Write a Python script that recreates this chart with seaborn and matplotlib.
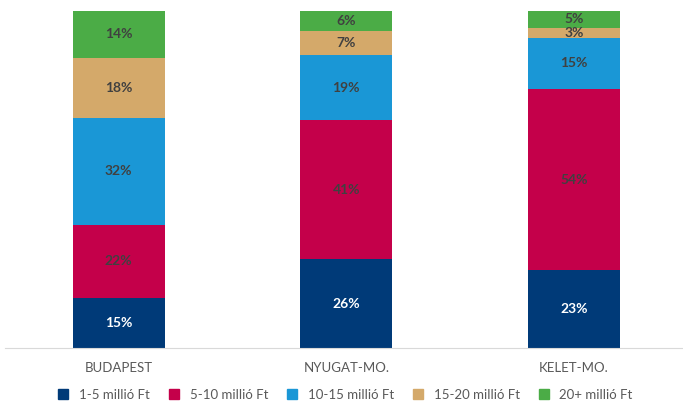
import numpy as np
import pandas as pd
import matplotlib
matplotlib.use('Agg')
import matplotlib.pyplot as plt
import seaborn as sns
from matplotlib.lines import Line2D

# Adatok
regiok = ['BUDAPEST', 'NYUGAT-MO.', 'KELET-MO.']
kategoriak = ['1-5 millió Ft', '5-10 millió Ft', '10-15 millió Ft', '15-20 millió Ft', '20+ millió Ft']
ertek_1_5 = [15, 26, 23]
ertek_5_10 = [22, 41, 54]
ertek_10_15 = [32, 19, 15]
ertek_15_20 = [18, 7, 3]
ertek_20p = [14, 6, 5]

szinek = ['#003A78', '#C4004A', '#1A97D6', '#D4A96A', '#4BAC46']
felirat_szin = ['white', '#404040', '#404040', '#404040', '#404040']

sns.set_style('white')
plt.rcParams['font.family'] = ['Lato', 'DejaVu Sans']

adat = np.array([ertek_1_5, ertek_5_10, ertek_10_15, ertek_15_20, ertek_20p], dtype=float)
arany = adat / adat.sum(axis=0) * 100  # 100%-os halmozás
kum = np.cumsum(arany, axis=0)

fig = plt.figure(figsize=(6.83, 4.07), dpi=100)
ax = fig.add_axes([5 / 683, 59 / 407, 678 / 683, 337 / 407])

# halmozott oszlopok: felülről lefelé rajzolva
for i in reversed(range(len(kategoriak))):
    df = pd.DataFrame({'regio': regiok, 'y': kum[i]})
    sns.barplot(data=df, x='regio', y='y', color=szinek[i], width=0.406,
                saturation=1, ax=ax, edgecolor='none', linewidth=0)

for i in range(len(kategoriak)):
    for j in range(len(regiok)):
        yc = kum[i, j] - arany[i, j] / 2
        ax.text(j, yc, f'{int(adat[i, j])}%', ha='center', va='center',
                fontsize=10, fontweight='bold', color=felirat_szin[i])

ax.set_ylim(0, 100)
ax.set_xlim(-0.5, 2.48)
ax.set_xlabel('')
ax.set_ylabel('')
ax.set_yticks([])
for s in ['top', 'right', 'left']:
    ax.spines[s].set_visible(False)
ax.spines['bottom'].set_color('#D9D9D9')
ax.tick_params(axis='x', length=0, pad=10, labelsize=9.5, labelcolor='#595959')

kezelok = [Line2D([0], [0], marker='s', linestyle='none', markersize=7,
                  markerfacecolor=c, markeredgecolor=c) for c in szinek]
fig.legend(kezelok, kategoriak, loc='center', bbox_to_anchor=(0.5, 12 / 407),
           ncol=5, frameon=False, fontsize=9.5, handletextpad=0.2,
           columnspacing=0.8, labelcolor='#595959', borderaxespad=0, borderpad=0.2)

plt.savefig('out.png', dpi=100)
